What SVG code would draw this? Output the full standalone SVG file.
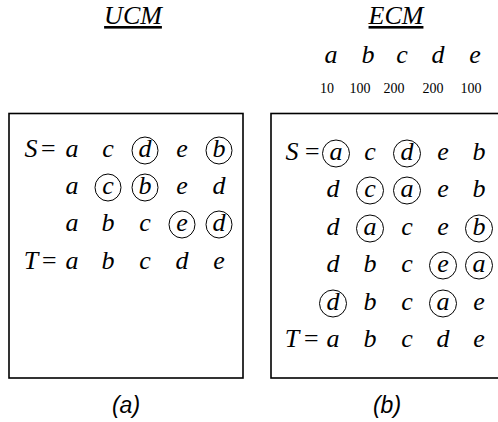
<svg xmlns="http://www.w3.org/2000/svg" width="498" height="422" viewBox="0 0 498 422">
  <style>
    .m { font-family: 'Liberation Serif', 'DejaVu Serif', serif; font-style: italic; font-size: 26px; fill: #000; text-anchor: middle; }
    .t { font-family: 'Liberation Serif', 'DejaVu Serif', serif; font-style: italic; font-size: 26px; fill: #000; text-anchor: middle; text-decoration: underline; }
    .n { font-family: 'Liberation Serif', 'DejaVu Serif', serif; font-size: 14px; fill: #000; text-anchor: middle; }
    .cap { font-family: 'Liberation Sans', Arial, sans-serif; font-style: italic; font-size: 23px; fill: #000; text-anchor: middle; }
    .box { fill: #fff; stroke: #000; stroke-width: 1.6; }
    .ring { fill: none; stroke: #000; stroke-width: 1; }
  </style>
  <rect width="498" height="422" fill="#fff"/>

  <!-- panel (a): UCM -->
  <g id="ucm">
    <text class="t" x="133" y="24">UCM</text>
    <rect class="box" x="9" y="113.5" width="234" height="264.5"/>
    <!-- S row -->
    <text class="m" x="31" y="157">S</text>
    <text class="m" x="48" y="157">=</text>
    <text class="m" x="72" y="157">a</text>
    <text class="m" x="108" y="157">c</text>
    <text class="m" x="145" y="157">d</text>
    <text class="m" x="182" y="157">e</text>
    <text class="m" x="219" y="157">b</text>
    <ellipse class="ring" cx="145" cy="150.5" rx="13" ry="13.5"/>
    <ellipse class="ring" cx="219" cy="150.5" rx="13" ry="13.5"/>
    <!-- row 2 -->
    <text class="m" x="72" y="194">a</text>
    <text class="m" x="108" y="194">c</text>
    <text class="m" x="145" y="194">b</text>
    <text class="m" x="182" y="194">e</text>
    <text class="m" x="219" y="194">d</text>
    <ellipse class="ring" cx="108" cy="187.5" rx="13" ry="13.5"/>
    <ellipse class="ring" cx="145" cy="187.5" rx="13" ry="13.5"/>
    <!-- row 3 -->
    <text class="m" x="72" y="231">a</text>
    <text class="m" x="108" y="231">b</text>
    <text class="m" x="145" y="231">c</text>
    <text class="m" x="182" y="231">e</text>
    <text class="m" x="219" y="231">d</text>
    <ellipse class="ring" cx="182" cy="224.5" rx="13" ry="13.5"/>
    <ellipse class="ring" cx="219" cy="224.5" rx="13" ry="13.5"/>
    <!-- T row -->
    <text class="m" x="31" y="269">T</text>
    <text class="m" x="49" y="269">=</text>
    <text class="m" x="72" y="269">a</text>
    <text class="m" x="108" y="269">b</text>
    <text class="m" x="145" y="269">c</text>
    <text class="m" x="182" y="269">d</text>
    <text class="m" x="219" y="269">e</text>
    <text class="cap" x="126" y="413">(a)</text>
  </g>

  <!-- panel (b): ECM -->
  <g id="ecm">
    <text class="t" x="396" y="24">ECM</text>
    <!-- element weights -->
    <text class="m" x="331" y="63">a</text>
    <text class="m" x="368" y="63">b</text>
    <text class="m" x="402" y="63">c</text>
    <text class="m" x="438" y="63">d</text>
    <text class="m" x="475" y="63">e</text>
    <text class="n" x="327" y="93">10</text>
    <text class="n" x="360" y="93">100</text>
    <text class="n" x="394" y="93">200</text>
    <text class="n" x="433" y="93">200</text>
    <text class="n" x="471" y="93">100</text>

    <rect class="box" x="271" y="113.5" width="240" height="264.5"/>
    <!-- S row -->
    <text class="m" x="292" y="160">S</text>
    <text class="m" x="312" y="160">=</text>
    <text class="m" x="336" y="160">a</text>
    <text class="m" x="370" y="160">c</text>
    <text class="m" x="407" y="160">d</text>
    <text class="m" x="443" y="160">e</text>
    <text class="m" x="479" y="160">b</text>
    <ellipse class="ring" cx="336" cy="153.5" rx="13.5" ry="13.5"/>
    <ellipse class="ring" cx="407" cy="153.5" rx="13.5" ry="13.5"/>
    <!-- row 2 -->
    <text class="m" x="333" y="197">d</text>
    <text class="m" x="370" y="197">c</text>
    <text class="m" x="407" y="197">a</text>
    <text class="m" x="443" y="197">e</text>
    <text class="m" x="479" y="197">b</text>
    <ellipse class="ring" cx="370" cy="190.5" rx="13.5" ry="13.5"/>
    <ellipse class="ring" cx="407" cy="190.5" rx="13.5" ry="13.5"/>
    <!-- row 3 -->
    <text class="m" x="333" y="235">d</text>
    <text class="m" x="370" y="235">a</text>
    <text class="m" x="407" y="235">c</text>
    <text class="m" x="443" y="235">e</text>
    <text class="m" x="479" y="235">b</text>
    <ellipse class="ring" cx="370" cy="228.5" rx="13.5" ry="13.5"/>
    <ellipse class="ring" cx="479" cy="228.5" rx="13.5" ry="13.5"/>
    <!-- row 4 -->
    <text class="m" x="333" y="272">d</text>
    <text class="m" x="370" y="272">b</text>
    <text class="m" x="407" y="272">c</text>
    <text class="m" x="443" y="272">e</text>
    <text class="m" x="479" y="272">a</text>
    <ellipse class="ring" cx="443" cy="265.5" rx="13.5" ry="13.5"/>
    <ellipse class="ring" cx="479" cy="265.5" rx="13.5" ry="13.5"/>
    <!-- row 5 -->
    <text class="m" x="333" y="310">d</text>
    <text class="m" x="370" y="310">b</text>
    <text class="m" x="407" y="310">c</text>
    <text class="m" x="443" y="310">a</text>
    <text class="m" x="479" y="310">e</text>
    <ellipse class="ring" cx="333" cy="303.5" rx="13.5" ry="13.5"/>
    <ellipse class="ring" cx="443" cy="303.5" rx="13.5" ry="13.5"/>
    <!-- T row -->
    <text class="m" x="292" y="347">T</text>
    <text class="m" x="311" y="347">=</text>
    <text class="m" x="333" y="347">a</text>
    <text class="m" x="370" y="347">b</text>
    <text class="m" x="407" y="347">c</text>
    <text class="m" x="443" y="347">d</text>
    <text class="m" x="479" y="347">e</text>
    <text class="cap" x="387" y="413">(b)</text>
  </g>
</svg>
